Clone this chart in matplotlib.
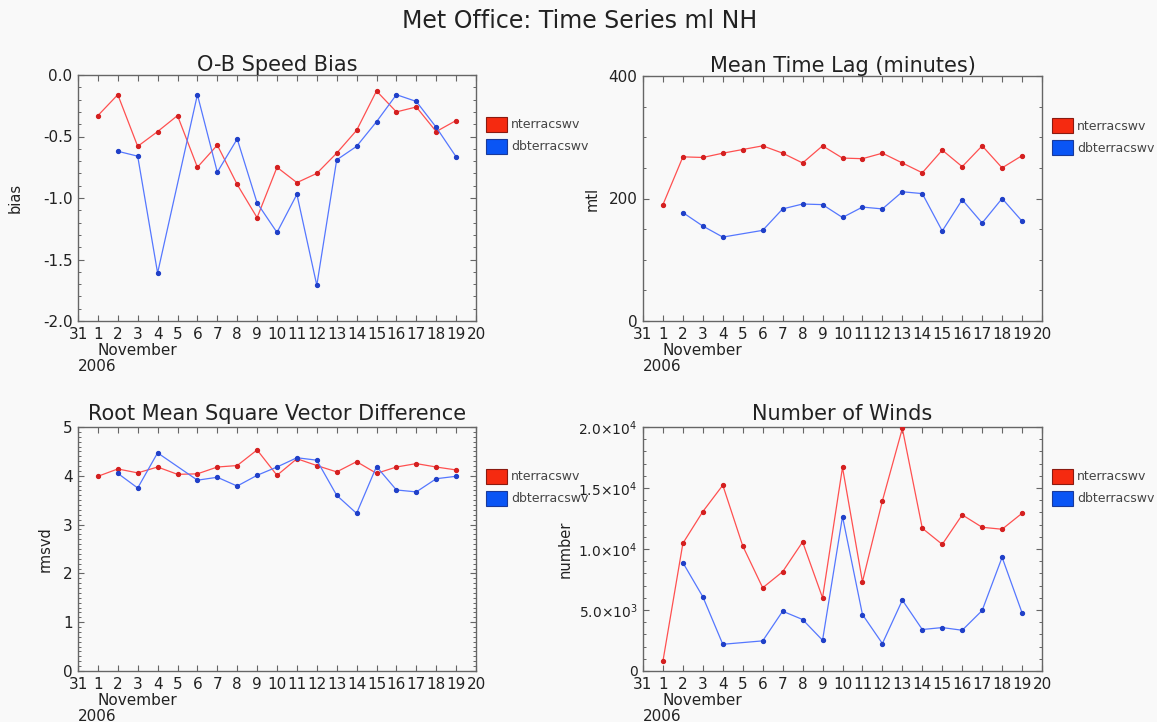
import numpy as np
import matplotlib.pyplot as plt
from matplotlib.patches import Rectangle
from matplotlib.ticker import MultipleLocator

plt.rcParams['font.family'] = ['DejaVu Sans']
plt.rcParams['axes.unicode_minus'] = False

# Data
nan = np.nan
days = list(range(1, 20))
xtick_labels = ['31'] + [str(d) for d in range(1, 21)]
series_labels = ['nterracswv', 'dbterracswv']

bias_n = [-0.33, -0.16, -0.58, -0.46, -0.33, -0.75, -0.57, -0.89, -1.16, -0.75,
          -0.875, -0.80, -0.635, -0.45, -0.13, -0.30, -0.26, -0.46, -0.37]
bias_db = [nan, -0.62, -0.66, -1.61, nan, -0.16, -0.79, -0.52, -1.04, -1.28,
           -0.97, -1.71, -0.69, -0.58, -0.38, -0.16, -0.215, -0.425, -0.665]

mtl_n = [190, 268, 267, 274, 280, 286, 274, 258, 286, 266,
         265, 274, 258, 242, 279, 252, 286, 250, 270]
mtl_db = [nan, 177, 155, 137, nan, 148, 183, 191, 190, 169,
          186, 183, 211, 208, 147, 198, 160, 200, 163]

rmsvd_n = [3.99, 4.14, 4.06, 4.18, 4.03, 4.04, 4.18, 4.21, 4.53, 4.01,
           4.35, 4.21, 4.08, 4.29, 4.05, 4.18, 4.25, 4.18, 4.12]
rmsvd_db = [nan, 4.05, 3.75, 4.47, nan, 3.91, 3.97, 3.79, 4.01, 4.18,
            4.37, 4.32, 3.60, 3.23, 4.19, 3.71, 3.67, 3.94, 3.99]

winds_n = [820, 10470, 13070, 15230, 10250, 6820, 8140, 10580, 6000, 16690,
           7320, 13950, 19880, 11700, 10380, 12800, 11780, 11620, 12930]
winds_db = [nan, 8880, 6080, 2190, nan, 2470, 4900, 4220, 2520, 12660,
            4630, 2250, 5810, 3400, 3560, 3340, 4960, 9320, 4770]

bias_ticks = [-2.0, -1.5, -1.0, -0.5, 0.0]
bias_tick_labels = ['-2.0', '-1.5', '-1.0', '-0.5', '0.0']
mtl_ticks = [0, 200, 400]
mtl_tick_labels = ['0', '200', '400']
rmsvd_ticks = [0, 1, 2, 3, 4, 5]
rmsvd_tick_labels = ['0', '1', '2', '3', '4', '5']
winds_ticks = [0, 5000, 10000, 15000, 20000]
winds_tick_labels = ['0', r'$5.0{\times}10^{3}$', r'$1.0{\times}10^{4}$',
                     r'$1.5{\times}10^{4}$', r'$2.0{\times}10^{4}$']

# Style
W, H = 1157, 722
bg = '#f9f9f9'
txt = '#222222'
line_colors = ['#ff5050', '#5577ff']
mark_colors = ['#d42020', '#2040c8']
key_colors = ['#f52a10', '#0a55f5']
key_edges = ['#8a1a10', '#1a3a9a']
frame = '#666666'

fig = plt.figure(figsize=(W / 100, H / 100), dpi=100, facecolor=bg)


def px_box(left, top, right, bottom):
    return [left / W, 1 - bottom / H, (right - left) / W, (bottom - top) / H]


panels = [
    dict(box=px_box(78, 75, 476, 321), title='O-B Speed Bias', ylabel='bias', ylab_x=-0.158,
         data=(bias_n, bias_db), ylim=(-2.0, 0.0), ticks=bias_ticks, tlabels=bias_tick_labels,
         minor=0.1, tpad=3, ysize=11),
    dict(box=px_box(643, 76, 1042, 321), title='Mean Time Lag (minutes)', ylabel='mtl', ylab_x=-0.128,
         data=(mtl_n, mtl_db), ylim=(0, 400), ticks=mtl_ticks, tlabels=mtl_tick_labels,
         minor=50, tpad=3, ysize=11),
    dict(box=px_box(78, 427, 476, 671), title='Root Mean Square Vector Difference', ylabel='rmsvd',
         ylab_x=-0.083, data=(rmsvd_n, rmsvd_db), ylim=(0, 5), ticks=rmsvd_ticks,
         tlabels=rmsvd_tick_labels, minor=0.1, tpad=5, ysize=11),
    dict(box=px_box(643, 427, 1042, 671), title='Number of Winds', ylabel='number', ylab_x=-0.195,
         data=(winds_n, winds_db), ylim=(0, 20000), ticks=winds_ticks, tlabels=winds_tick_labels,
         minor=1000, tpad=5, ysize=10),
]

for p in panels:
    ax = fig.add_axes(p['box'], facecolor=bg)
    for i in range(2):
        y = np.array(p['data'][i], dtype=float)
        ok = ~np.isnan(y)
        ax.plot(np.array(days)[ok], y[ok], color=line_colors[i], lw=0.9, marker='o', ms=2.8,
                mfc=mark_colors[i], mec=mark_colors[i], zorder=3)
    ax.set_xlim(0, 20)
    ax.set_ylim(*p['ylim'])
    ax.set_xticks(range(0, 21))
    ax.set_xticklabels(xtick_labels)
    ax.set_yticks(p['ticks'])
    ax.set_yticklabels(p['tlabels'])
    ax.yaxis.set_minor_locator(MultipleLocator(p['minor']))
    ax.tick_params(axis='both', which='both', direction='in', top=True, right=True,
                   colors=frame, labelcolor=txt, labelsize=11)
    ax.tick_params(axis='y', labelsize=p['ysize'])
    ax.tick_params(axis='both', which='major', length=4, width=0.8, pad=4)
    ax.tick_params(axis='y', which='minor', length=2.5, width=0.7)
    for s in ax.spines.values():
        s.set_color(frame)
        s.set_linewidth(1.0)
    ax.set_title(p['title'], fontsize=15, pad=p['tpad'], color=txt)
    ax.text(p['ylab_x'], 0.5, p['ylabel'], transform=ax.transAxes, rotation=90,
            ha='center', va='center', fontsize=10.5, color=txt)
    # date labels under the axis
    ax.annotate('November', xy=(0.98, 0), xycoords=('data', 'axes fraction'),
                xytext=(0, -21), textcoords='offset points', ha='left', va='center',
                fontsize=11, color=txt, annotation_clip=False)
    ax.annotate('2006', xy=(0, 0), xycoords=('data', 'axes fraction'),
                xytext=(0, -32.5), textcoords='offset points', ha='left', va='center',
                fontsize=11, color=txt, annotation_clip=False)

    # key to the right of each panel
    x0, y0, w, h = p['box']
    right_px = (x0 + w) * W
    top_px = (1 - (y0 + h)) * H
    for k in range(2):
        ptop = top_px + 42 + 22 * k
        fig.add_artist(Rectangle(((right_px + 10) / W, 1 - (ptop + 15) / H), 21 / W, 15 / H,
                                 transform=fig.transFigure, facecolor=key_colors[k],
                                 edgecolor=key_edges[k], lw=0.8))
        fig.text((right_px + 35) / W, 1 - (ptop + 8) / H, series_labels[k], va='center',
                 ha='left', fontsize=9, color='#444444')

fig.text(0.501, 1 - 28 / H, 'Met Office: Time Series ml NH', ha='center', va='baseline',
         fontsize=17, color=txt)

plt.savefig('out.png', dpi=100, facecolor=bg)
